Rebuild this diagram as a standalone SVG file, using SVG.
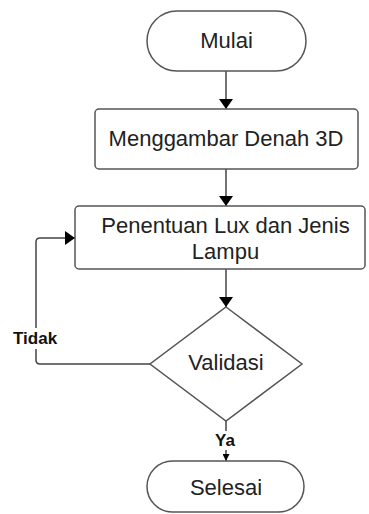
<svg xmlns="http://www.w3.org/2000/svg" width="369" height="514" viewBox="0 0 369 514">
  <defs>
    <style>
      .shape { fill: #ffffff; stroke: #555555; stroke-width: 1.5; }
      .edge { fill: none; stroke: #444444; stroke-width: 1.5; }
      .label { font-family: "Liberation Sans", Arial, sans-serif; font-size: 22px; fill: #222222; text-anchor: middle; }
      .tag { font-family: "Liberation Sans", Arial, sans-serif; font-size: 17px; font-weight: bold; fill: #111111; }
      .tagbg { fill: #ffffff; stroke: none; }
    </style>
    <marker id="head" viewBox="0 0 10 14" refX="10" refY="7" markerWidth="10" markerHeight="14" markerUnits="userSpaceOnUse" orient="auto">
      <path d="M0,0 L10,7 L0,14 Z" fill="#000000"/>
    </marker>
    <marker id="headSmall" viewBox="0 0 8 8" refX="8" refY="4" markerWidth="8" markerHeight="7" markerUnits="userSpaceOnUse" orient="auto">
      <path d="M0,0 L8,4 L0,8 Z" fill="#000000"/>
    </marker>
  </defs>

  <g id="connectors">
    <line class="edge" x1="226" y1="71" x2="226" y2="109" marker-end="url(#head)"/>
    <line class="edge" x1="226" y1="169" x2="226" y2="206" marker-end="url(#head)"/>
    <line class="edge" x1="226" y1="269" x2="226" y2="307" marker-end="url(#head)"/>
    <path class="edge" d="M150,364 H40 Q36,364 36,360 V242 Q36,238 40,238 H75" marker-end="url(#head)"/>
    <rect class="tagbg" x="11" y="328" width="48" height="21"/>
    <text class="tag" x="13" y="344">Tidak</text>
    <line class="edge" x1="226" y1="421" x2="226" y2="431"/>
    <line class="edge" x1="226" y1="450" x2="226" y2="461" marker-end="url(#headSmall)"/>
    <text class="tag" x="215" y="446">Ya</text>
  </g>

  <g id="mulai">
    <rect class="shape" x="147" y="11" width="159" height="60" rx="30" ry="30"/>
    <text class="label" x="226.5" y="48">Mulai</text>
  </g>

  <g id="menggambar">
    <rect class="shape" x="95" y="109" width="263" height="60" rx="4" ry="4"/>
    <text class="label" x="226" y="146">Menggambar Denah 3D</text>
  </g>

  <g id="penentuan">
    <rect class="shape" x="75" y="206" width="290" height="63" rx="4" ry="4"/>
    <text class="label" x="225.5" y="233">Penentuan Lux dan Jenis</text>
    <text class="label" x="225.5" y="259">Lampu</text>
  </g>

  <g id="validasi">
    <polygon class="shape" points="226,307 302,364 226,421 150,364"/>
    <text class="label" x="226" y="370">Validasi</text>
  </g>

  <g id="selesai">
    <rect class="shape" x="147" y="461" width="157" height="51" rx="25.5" ry="25.5"/>
    <text class="label" x="226" y="495">Selesai</text>
  </g>
</svg>
